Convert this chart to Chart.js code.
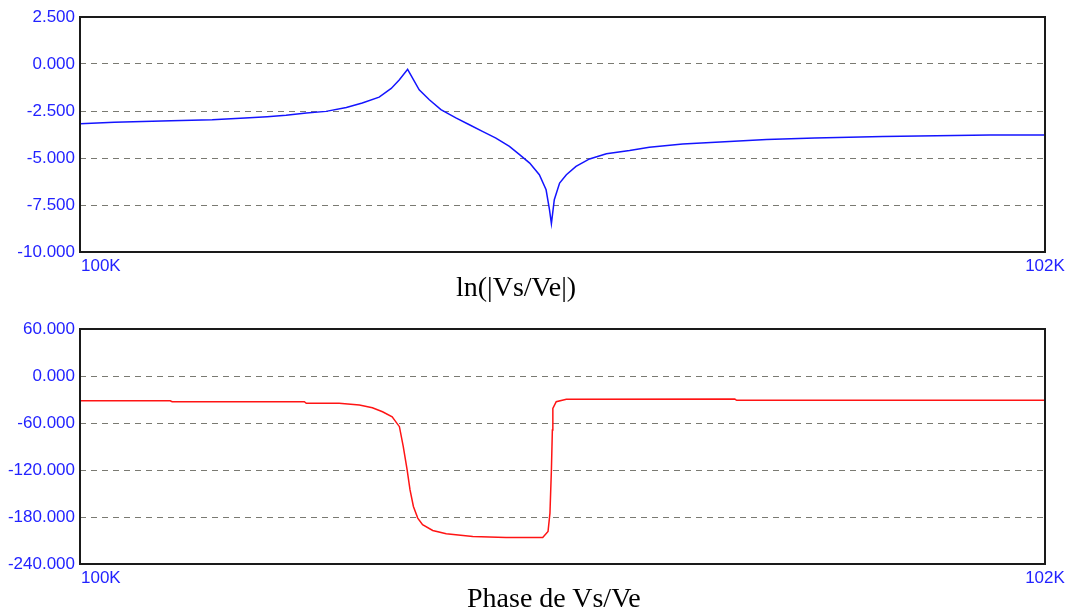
<!DOCTYPE html>
<html><head><meta charset="utf-8">
<script src="https://cdn.jsdelivr.net/npm/chart.js@4.4.1/dist/chart.umd.min.js"></script>
<style>
html,body{margin:0;padding:0;background:#fff;width:1074px;height:613px;overflow:hidden;}
.wrap{position:absolute;left:0;width:1074px;}
#w1{top:0;height:282px;}
#w2{top:300px;height:313px;}
.title{position:absolute;font-family:"Liberation Serif","Times New Roman",serif;font-size:28px;line-height:28px;color:#000;white-space:nowrap;}
</style></head><body>
<div class="wrap" id="w1"><canvas id="c1"></canvas></div>
<div class="wrap" id="w2"><canvas id="c2"></canvas></div>
<div class="title" style="left:456px;top:273px">ln(|Vs/Ve|)</div>
<div class="title" style="left:467px;top:584px">Phase de Vs/Ve</div>
<script>
// ---- data (frequency in kHz) ----
const xTickValues = [100, 102];
const xTickLabels = ['100K', '102K'];

const magTicks = [2.5, 0, -2.5, -5, -7.5, -10];
const phaseTicks = [60, 0, -60, -120, -180, -240];

const magFreq = [100.000,100.071,100.189,100.274,100.342,100.388,100.427,100.469,100.510,100.552,100.585,100.620,100.645,100.662,100.679,100.703,100.724,100.748,100.779,100.807,100.834,100.862,100.890,100.911,100.932,100.952,100.966,100.973,100.977,100.983,100.994,101.008,101.028,101.056,101.091,101.139,101.180,101.249,101.346,101.423,101.523,101.664,101.886,102.000];
const magValues = [-3.18,-3.10,-3.02,-2.96,-2.87,-2.80,-2.73,-2.61,-2.52,-2.31,-2.07,-1.76,-1.30,-0.84,-0.28,-1.37,-1.90,-2.43,-2.87,-3.23,-3.58,-3.94,-4.38,-4.82,-5.27,-5.89,-6.69,-7.75,-8.49,-7.22,-6.33,-5.89,-5.45,-5.05,-4.77,-4.60,-4.43,-4.26,-4.12,-4.01,-3.94,-3.85,-3.78,-3.78];

const phaseFreq = [100.000,100.187,100.191,100.465,100.469,100.537,100.579,100.606,100.627,100.647,100.662,100.670,100.678,100.684,100.691,100.700,100.710,100.731,100.759,100.814,100.883,100.959,100.970,100.974,100.977,100.979,100.980,100.987,101.008,101.357,101.361,102.000];
const phaseValues = [-31.6,-31.6,-32.9,-32.9,-34.9,-34.9,-37.1,-40.5,-45.6,-52.0,-64.7,-90.2,-119.9,-145.4,-166.6,-181.4,-189.9,-197.2,-201.4,-204.8,-206.1,-206.1,-198.5,-175.0,-119.9,-68.9,-41.3,-32.8,-29.8,-29.5,-31.1,-31.1];

// ---- styling ----
const BLUE = 'rgb(34,34,255)';
const GRID = '#7a7a72';
const TICK_FONT = {family: '"Liberation Sans", Arial, sans-serif', size: 17};

const framePlugin = {
  id: 'frame',
  afterDraw(chart) {
    const a = chart.chartArea, ctx = chart.ctx;
    ctx.save();
    ctx.strokeStyle = '#1a1a1a';
    ctx.lineWidth = 2;
    ctx.strokeRect(a.left, a.top, a.right - a.left, a.bottom - a.top);
    ctx.restore();
  }
};

const xLabelPlugin = {
  id: 'xLabels',
  afterDraw(chart) {
    const s = chart.scales.x, ctx = chart.ctx, a = chart.chartArea;
    ctx.save();
    ctx.fillStyle = BLUE;
    ctx.font = TICK_FONT.size + 'px ' + TICK_FONT.family;
    ctx.textBaseline = 'alphabetic';
    xTickValues.forEach((v, i) => {
      ctx.textAlign = i === 0 ? 'left' : 'center';
      ctx.fillText(xTickLabels[i], s.getPixelForValue(v) + (i === 0 ? 1 : 0), a.bottom + 19);
    });
    ctx.restore();
  }
};

function makeChart(id, xs, ys, color, ticks, padTop, xAxisHeight) {
  const yMax = ticks[0], yMin = ticks[ticks.length - 1];
  return new Chart(document.getElementById(id), {
    type: 'line',
    data: {
      datasets: [{
        data: xs.map((x, i) => ({x: x, y: ys[i]})),
        borderColor: color,
        borderWidth: 1.5,
        pointRadius: 0,
        tension: 0,
        fill: false
      }]
    },
    options: {
      responsive: true,
      maintainAspectRatio: false,
      animation: false,
      events: [],
      layout: {padding: {left: 0, right: 29, top: padTop, bottom: 0}},
      plugins: {legend: {display: false}, tooltip: {enabled: false}, title: {display: false}},
      scales: {
        x: {
          type: 'linear', min: xTickValues[0], max: xTickValues[xTickValues.length - 1],
          ticks: {display: false},
          grid: {display: false},
          border: {display: false},
          afterFit: s => { s.height = xAxisHeight; }
        },
        y: {
          type: 'linear', min: yMin, max: yMax,
          afterBuildTicks: s => { s.ticks = ticks.map(v => ({value: v})); },
          afterFit: s => { s.width = 80; },
          ticks: {
            color: BLUE, font: TICK_FONT, padding: 5,
            callback: v => Number(v).toFixed(3)
          },
          grid: {
            drawTicks: false, lineWidth: 1,
            color: c => (c.tick && (c.tick.value === yMin || c.tick.value === yMax)) ? 'rgba(0,0,0,0)' : GRID
          },
          border: {display: false, dash: [6, 5]}
        }
      }
    },
    plugins: [framePlugin, xLabelPlugin]
  });
}

makeChart('c1', magFreq, magValues, 'rgb(20,20,255)', magTicks, 17, 30);
makeChart('c2', phaseFreq, phaseValues, 'rgb(255,20,20)', phaseTicks, 29, 49);
</script>
</body></html>
